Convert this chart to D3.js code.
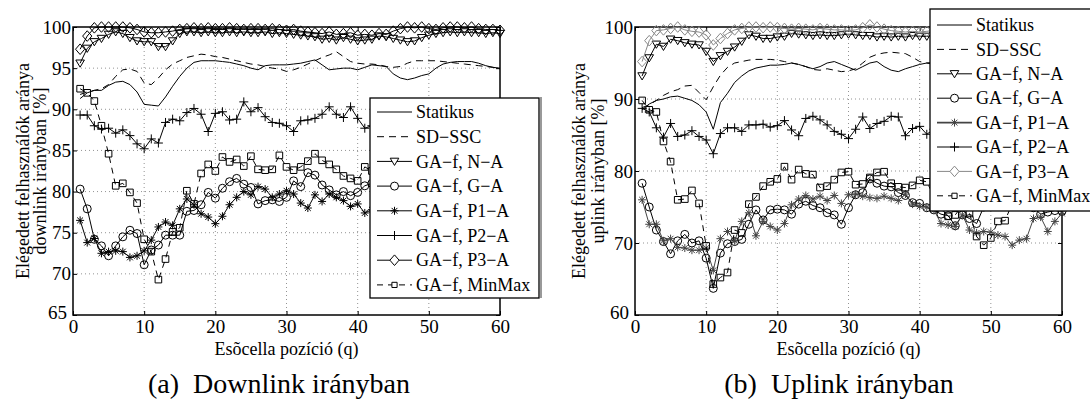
<!DOCTYPE html>
<html>
<head>
<meta charset="utf-8">
<script src="https://cdn.jsdelivr.net/npm/d3@7"></script>
<style>
  body { margin: 0; background: #fff; }
</style>
</head>
<body>
<svg id="chart" width="1090" height="399"></svg>
<script>
const FONT = "Liberation Serif";

// cell positions q = 1..60
const positions = d3.range(1, 61);
const xTicks = [0, 10, 20, 30, 40, 50, 60];
const dlYTicks = [65, 70, 75, 80, 85, 90, 95, 100];
const ulYTicks = [60, 70, 80, 90, 100];
const seriesNames = ["Statikus", "SD\u2212SSC", "GA\u2212f, N\u2212A", "GA\u2212f, G\u2212A",
  "GA\u2212f, P1\u2212A", "GA\u2212f, P2\u2212A", "GA\u2212f, P3\u2212A", "GA\u2212f, MinMax"];

// (a) downlink
const dlStatikus = [91.3, 92.0, 92.3, 92.3, 92.9, 93.3, 93.4, 93.0, 92.1, 90.6, 90.5, 90.4, 91.5, 92.8, 94.0, 95.0, 95.7, 95.9, 95.9, 95.9,
  95.8, 95.7, 95.5, 95.3, 95.0, 94.8, 95.3, 95.4, 95.4, 95.4, 95.5, 95.6, 95.8, 96.0, 95.4, 94.8, 94.9, 95.0, 95.0, 94.8,
  95.1, 95.4, 95.3, 95.2, 94.3, 93.8, 93.6, 93.8, 94.1, 94.3, 95.0, 95.5, 95.7, 95.8, 95.8, 95.8, 95.6, 95.3, 95.1, 95.0];
const dlSdssc = [91.8, 92.1, 92.3, 92.5, 93.0, 94.0, 94.8, 94.9, 94.6, 93.2, 93.0, 93.8, 94.8, 95.5, 95.9, 96.3, 96.5, 96.7, 96.6, 96.4,
  96.3, 96.1, 95.9, 95.7, 95.5, 95.4, 95.2, 95.0, 94.9, 94.6, 94.8, 95.1, 95.5, 95.9, 96.3, 96.6, 97.0, 96.4, 95.8, 95.6,
  95.5, 95.5, 95.4, 95.2, 95.1, 95.2, 95.6, 95.9, 95.9, 95.9, 95.9, 95.8, 95.7, 95.6, 95.5, 95.4, 95.3, 95.2, 95.1, 94.9];
const dlNA = [95.6, 97.4, 98.2, 98.6, 99.1, 99.4, 99.2, 98.7, 98.3, 98.2, 98.2, 97.6, 97.6, 98.3, 99.2, 99.4, 99.4, 99.3, 99.4, 99.3,
  99.3, 99.4, 99.3, 99.4, 99.3, 99.3, 99.4, 99.2, 99.3, 99.2, 99.1, 99.0, 98.9, 98.8, 98.5, 98.6, 98.4, 98.7, 98.5, 98.3,
  98.4, 98.5, 98.9, 98.8, 98.6, 98.4, 98.2, 98.3, 98.7, 99.0, 99.2, 99.3, 99.4, 99.3, 99.4, 99.3, 99.3, 99.2, 99.3, 99.2];
const dlGA = [80.3, 77.9, 74.2, 73.4, 72.2, 73.4, 74.5, 75.3, 74.9, 71.1, 72.9, 73.5, 74.7, 74.7, 74.7, 77.6, 77.7, 78.4, 79.9, 79.2,
  80.4, 81.2, 81.6, 80.9, 80.5, 78.5, 78.9, 79.0, 78.8, 79.3, 81.3, 80.6, 82.3, 82.0, 80.8, 80.2, 79.6, 80.0, 79.5, 79.9,
  80.7, 81.0, 80.6, 80.2, 80.8, 81.2, 80.5, 80.0, 80.4, 81.0, 81.5, 81.2, 80.8, 81.0, 81.4, 81.0, 80.7, 81.2, 81.0, 80.8];
const dlP1 = [76.5, 73.8, 74.3, 72.5, 72.7, 72.8, 72.7, 72.0, 72.2, 72.8, 74.1, 75.7, 76.3, 75.9, 77.9, 79.1, 78.4, 77.3, 76.9, 76.1,
  77.0, 78.4, 79.3, 80.0, 79.6, 80.6, 80.3, 79.3, 79.7, 80.1, 79.7, 78.6, 78.0, 79.6, 78.8, 79.7, 79.3, 78.9, 78.2, 78.5,
  77.4, 77.8, 78.2, 78.6, 78.0, 78.4, 79.0, 78.7, 78.3, 78.8, 79.2, 78.9, 78.5, 78.9, 79.3, 79.0, 78.6, 78.9, 78.7, 78.8];
const dlP2 = [89.3, 89.3, 88.0, 87.6, 87.7, 87.1, 87.5, 86.8, 85.8, 85.2, 86.4, 85.9, 88.4, 88.8, 88.6, 89.6, 90.1, 89.4, 87.3, 89.5,
  89.7, 88.7, 88.8, 90.9, 89.7, 90.2, 89.1, 88.4, 88.3, 88.0, 87.3, 88.6, 88.7, 88.9, 89.4, 90.3, 89.4, 89.0, 90.3, 88.9,
  87.7, 88.0, 88.5, 88.5, 88.8, 89.0, 88.6, 89.2, 89.5, 89.0, 88.7, 89.2, 89.6, 89.3, 89.0, 89.4, 89.1, 88.8, 89.0, 88.9];
const dlP3 = [97.3, 98.9, 99.9, 100.0, 100.0, 100.0, 100.0, 99.9, 99.7, 99.4, 99.3, 99.3, 99.4, 99.5, 99.7, 99.8, 99.9, 99.8, 99.9, 99.8,
  99.8, 99.9, 99.8, 99.7, 99.8, 99.8, 99.7, 99.8, 99.7, 99.6, 99.7, 99.5, 99.4, 99.3, 99.2, 99.4, 99.1, 99.2, 99.3, 99.0,
  99.1, 99.0, 99.2, 99.1, 99.5, 99.8, 100.0, 99.9, 100.0, 99.8, 99.7, 99.9, 100.0, 100.0, 99.9, 100.0, 99.8, 99.7, 99.7, 99.6];
const dlMinMax = [92.5, 92.0, 91.0, 88.0, 84.6, 80.7, 81.0, 79.9, 78.6, 74.2, 72.7, 69.3, 71.8, 75.1, 75.6, 80.1, 78.5, 82.2, 83.3, 82.5,
  84.2, 83.6, 83.9, 83.1, 84.3, 82.7, 82.6, 82.7, 84.4, 83.0, 82.6, 83.0, 83.7, 84.6, 83.8, 83.3, 82.7, 81.9, 81.6, 81.3,
  83.0, 82.5, 83.0, 83.4, 82.8, 83.2, 83.6, 83.0, 82.7, 83.3, 83.8, 83.2, 82.9, 83.5, 83.1, 82.8, 83.3, 83.0, 82.7, 83.0];

// (b) uplink
const ulStatikus = [88.5, 89.3, 89.8, 90.0, 90.3, 90.4, 90.1, 89.8, 89.2, 88.2, 85.8, 89.5, 90.8, 92.3, 93.2, 93.9, 94.3, 94.5, 94.7, 94.7,
  94.8, 95.0, 94.8, 94.5, 94.2, 94.5, 95.0, 95.2, 94.8, 94.4, 94.0, 94.5, 95.0, 95.2, 94.5, 94.0, 93.8, 94.2, 94.5, 94.8,
  95.0, 95.1, 95.0, 94.8, 94.6, 94.8, 95.0, 95.2, 95.0, 94.8, 94.7, 94.9, 95.1, 95.2, 95.0, 94.9, 95.0, 95.1, 95.0, 95.0];
const ulSdssc = [88.8, 89.2, 89.8, 90.5, 91.0, 91.3, 91.8, 91.9, 90.9, 89.9, 91.7, 93.3, 94.4, 95.0, 95.2, 95.4, 95.5, 95.5, 95.5, 95.4,
  95.2, 95.0, 94.8, 94.5, 94.1, 94.0, 94.2, 94.0, 93.8, 93.9, 94.2, 95.0, 95.8, 96.2, 96.4, 96.5, 96.4, 96.3, 95.8, 95.2,
  95.0, 94.8, 94.9, 95.1, 95.3, 95.2, 95.0, 94.9, 95.0, 95.2, 95.3, 95.1, 95.0, 94.9, 95.1, 95.2, 95.0, 94.9, 95.0, 95.1];
const ulNA = [93.2, 95.7, 97.6, 97.3, 98.3, 98.1, 97.8, 97.6, 97.5, 96.6, 95.2, 96.0, 96.6, 97.2, 98.0, 98.9, 98.7, 98.4, 98.4, 98.6,
  98.7, 99.1, 99.0, 98.9, 98.8, 98.9, 98.8, 98.8, 98.9, 99.0, 98.9, 98.8, 98.8, 98.6, 98.7, 98.6, 98.7, 98.6, 98.8, 98.7,
  98.7, 98.8, 98.9, 98.8, 98.7, 98.9, 99.0, 98.9, 98.8, 98.9, 99.0, 98.9, 98.8, 98.9, 98.9, 99.0, 98.9, 98.8, 98.9, 98.9];
const ulGA = [78.3, 75.0, 71.8, 70.2, 68.5, 70.3, 71.2, 70.0, 70.3, 67.9, 63.7, 68.6, 69.9, 70.2, 70.5, 72.6, 74.6, 73.2, 74.6, 74.7,
  74.6, 74.0, 75.4, 75.8, 75.2, 74.9, 74.2, 73.9, 72.6, 74.9, 76.7, 77.0, 78.9, 78.3, 77.9, 77.8, 77.0, 76.6, 75.6, 75.5,
  74.9, 74.6, 74.0, 73.8, 72.4, 73.9, 73.4, 72.7, 75.0, 75.4, 75.8, 76.0, 75.6, 75.2, 75.5, 74.9, 74.0, 74.3, 74.5, 74.4];
const ulP1 = [76.0, 72.6, 72.6, 70.3, 70.6, 69.4, 69.3, 69.0, 69.0, 69.3, 66.2, 70.6, 71.6, 70.3, 73.0, 74.2, 71.0, 73.0, 72.3, 71.8,
  72.7, 75.3, 76.1, 76.6, 76.1, 76.5, 75.9, 76.6, 75.5, 76.7, 76.8, 76.5, 76.3, 76.2, 76.5, 76.2, 75.9, 76.8, 75.4, 75.1,
  75.0, 74.6, 72.7, 72.5, 72.3, 73.9, 71.8, 71.4, 71.6, 71.5, 71.1, 70.9, 69.7, 70.4, 70.6, 73.4, 73.6, 71.6, 73.0, 74.1];
const ulP2 = [88.7, 88.2, 86.0, 84.7, 86.6, 84.8, 85.0, 85.6, 84.8, 84.3, 82.4, 85.2, 86.0, 86.0, 85.5, 86.4, 86.4, 86.5, 86.1, 86.3,
  87.0, 85.7, 84.9, 87.3, 87.6, 87.1, 86.4, 85.5, 85.1, 84.5, 85.8, 87.5, 85.9, 86.6, 86.9, 87.6, 87.5, 84.9, 85.9, 86.2,
  85.1, 85.8, 86.2, 86.0, 85.6, 86.1, 86.4, 86.0, 85.7, 86.2, 86.5, 86.1, 85.8, 86.0, 86.3, 86.0, 85.7, 86.1, 86.2, 86.0];
const ulP3 = [95.2, 98.1, 99.5, 99.6, 99.8, 100.0, 99.6, 99.4, 99.3, 98.9, 97.5, 98.4, 99.1, 99.6, 99.8, 100.0, 100.0, 99.9, 100.0, 99.9,
  99.8, 99.7, 99.8, 99.7, 99.6, 99.8, 99.7, 99.6, 99.6, 99.5, 99.6, 99.9, 100.3, 100.0, 99.7, 99.5, 99.4, 99.3, 99.4, 99.3,
  99.4, 99.5, 99.6, 99.5, 99.4, 99.5, 99.6, 99.5, 99.4, 99.5, 99.6, 99.5, 99.5, 99.6, 99.5, 99.4, 99.5, 99.6, 99.5, 99.5];
const ulMinMax = [89.8, 88.5, 88.2, 84.1, 81.3, 76.0, 76.1, 77.3, 75.5, 69.6, 64.3, 65.2, 65.9, 71.8, 71.4, 75.4, 76.4, 77.9, 78.5, 78.9,
  80.6, 78.8, 80.2, 79.6, 79.5, 77.7, 77.9, 78.8, 79.8, 79.9, 78.1, 78.2, 79.1, 79.8, 79.9, 78.3, 77.8, 77.7, 78.0, 78.7,
  78.5, 76.5, 75.0, 73.7, 73.9, 75.2, 74.1, 70.9, 69.7, 70.7, 73.0, 73.1, 75.5, 76.0, 76.4, 76.0, 75.6, 75.5, 75.9, 76.0];

const markerPaths = {
  tri: "M-4.3,-3.2L4.3,-3.2L0,4Z",
  circle: "M4,0A4,4 0 1,1 -4,0A4,4 0 1,1 4,0Z",
  star: "M-4,0H4M0,-4V4M-2.9,-2.9L2.9,2.9M-2.9,2.9L2.9,-2.9",
  plus: "M-4.5,0H4.5M0,-4.5V4.5",
  diamond: "M0,-5.3L4.6,0L0,5.3L-4.6,0Z",
  square: "M-3.3,-3.3H3.3V3.3H-3.3Z",
  squareSmall: "M-2.6,-2.6H2.6V2.6H-2.6Z"
};
const styles = [
  { dash: null, marker: null },
  { dash: "7,5", marker: null },
  { dash: null, marker: "tri" },
  { dash: null, marker: "circle" },
  { dash: null, marker: "star" },
  { dash: null, marker: "plus" },
  { dash: null, marker: "diamond" },
  { dash: "6,5", marker: "square" }
];

const svg = d3.select("#chart");

function label(sel, size) {
  return sel.attr("font-family", FONT).style("font-family", FONT)
    .style("font-size", size + "px").attr("fill", "#000");
}

function drawPanel(opt) {
  const w = 427, h = 288;
  const g = svg.append("g").attr("transform", "translate(" + opt.left + "," + opt.top + ")");
  const x = d3.scaleLinear().domain([0, 60]).range([0, w]);
  const y = d3.scaleLinear().domain(opt.yDomain).range([h, 0]);

  // dotted grid
  g.append("g").selectAll("line").data(xTicks.slice(1, -1)).join("line")
    .attr("x1", d => x(d)).attr("x2", d => x(d)).attr("y1", 0).attr("y2", h)
    .attr("stroke", "#777").attr("stroke-width", 0.8).attr("stroke-dasharray", "1,3");
  g.append("g").selectAll("line").data(opt.yTicks.slice(1, -1)).join("line")
    .attr("y1", d => y(d)).attr("y2", d => y(d)).attr("x1", 0).attr("x2", w)
    .attr("stroke", "#777").attr("stroke-width", 0.8).attr("stroke-dasharray", "1,3");

  // axes with inward ticks
  const xa = g.append("g").attr("transform", "translate(0," + h + ")")
    .call(d3.axisBottom(x).tickValues(xTicks).tickSize(-4).tickPadding(5));
  const ya = g.append("g")
    .call(d3.axisLeft(y).tickValues(opt.yTicks).tickSize(-4).tickPadding(2));
  g.append("g").call(d3.axisTop(x).tickValues(xTicks).tickSize(-4).tickFormat(""));
  g.append("g").attr("transform", "translate(" + w + ",0)")
    .call(d3.axisRight(y).tickValues(opt.yTicks).tickSize(-4).tickFormat(""));
  g.selectAll(".domain").remove();
  g.selectAll(".tick line").attr("stroke", "#000");
  label(xa.selectAll("text"), 19);
  label(ya.selectAll("text"), 19);
  // keep the lowest y label clear of the "0" under the corner
  ya.selectAll("text").filter(d => d === opt.yDomain[0]).attr("x", -6).attr("dy", "0.2em");

  g.append("rect").attr("width", w).attr("height", h)
    .attr("fill", "none").attr("stroke", "#000").attr("stroke-width", 1.5);

  // series
  const line = d3.line().x((d, i) => x(positions[i])).y(d => y(d));
  opt.series.forEach((vals, k) => {
    const st = styles[k];
    const col = opt.colors[k];
    g.append("path").datum(vals).attr("d", line)
      .attr("fill", "none").attr("stroke", col).attr("stroke-width", 1)
      .attr("stroke-dasharray", st.dash);
    if (st.marker) {
      g.append("g").selectAll("path").data(vals).join("path")
        .attr("d", markerPaths[st.marker])
        .attr("transform", (d, i) => "translate(" + x(positions[i]) + "," + y(d) + ")")
        .attr("fill", "none").attr("stroke", col).attr("stroke-width", 1);
    }
  });

  // axis labels
  label(svg.append("text"), 18).attr("x", opt.left + w / 2).attr("y", 355)
    .attr("text-anchor", "middle").text("Es\u00f5cella poz\u00edci\u00f3 (q)");
  opt.yLabel.forEach((t, i) => {
    label(svg.append("text"), 18)
      .attr("transform", "translate(" + opt.yLabelX[i] + "," + (opt.top + h / 2) + ") rotate(-90)")
      .attr("text-anchor", "middle").text(t);
  });
  label(svg.append("text"), 28).attr("x", opt.captionX).attr("y", 393)
    .attr("text-anchor", "middle").style("white-space", "pre")
    .text(opt.caption);

  // legend
  const L = opt.legend;
  const lg = svg.append("g");
  if (L.shadow) {
    lg.append("line").attr("x1", L.x + L.w + 2).attr("x2", L.x + L.w + 2)
      .attr("y1", L.y - 1).attr("y2", L.y + L.h)
      .attr("stroke", "#999").attr("stroke-width", 2);
  }
  lg.append("rect").attr("x", L.x).attr("y", L.y).attr("width", L.w).attr("height", L.h)
    .attr("fill", "#fff").attr("stroke", "#000").attr("stroke-width", 1.3);
  seriesNames.forEach((name, k) => {
    const st = styles[k];
    const yy = L.row0 + k * L.step;
    const col = opt.colors[k];
    lg.append("line").attr("x1", L.x + 7).attr("x2", L.x + 42).attr("y1", yy).attr("y2", yy)
      .attr("stroke", col).attr("stroke-width", k === 4 && opt.thickP1 ? 1.8 : 1)
      .attr("stroke-dasharray", st.dash);
    if (st.marker) {
      lg.append("path")
        .attr("d", markerPaths[st.marker === "square" ? "squareSmall" : st.marker])
        .attr("transform", "translate(" + (L.x + 24.5) + "," + yy + ")")
        .attr("fill", "#fff").attr("stroke", col).attr("stroke-width", 1);
    }
    label(lg.append("text"), 18).attr("x", L.x + 46).attr("y", yy).attr("dy", "0.34em").text(name);
  });
}

drawPanel({
  left: 73, top: 27, yDomain: [65, 100], yTicks: dlYTicks,
  series: [dlStatikus, dlSdssc, dlNA, dlGA, dlP1, dlP2, dlP3, dlMinMax],
  colors: ["#000", "#000", "#000", "#000", "#000", "#000", "#000", "#000"],
  yLabel: ["El\u00e9gedett felhaszn\u00e1l\u00f3k ar\u00e1nya", "downlink ir\u00e1nyban [%]"],
  yLabelX: [29, 46],
  caption: "(a)  Downlink ir\u00e1nyban", captionX: 279,
  legend: { x: 370, y: 98, w: 169, h: 200, row0: 112, step: 24.7, shadow: true }
});
drawPanel({
  left: 635, top: 27, yDomain: [60, 100], yTicks: ulYTicks,
  series: [ulStatikus, ulSdssc, ulNA, ulGA, ulP1, ulP2, ulP3, ulMinMax],
  colors: ["#000", "#000", "#000", "#000", "#444", "#000", "#888", "#000"],
  thickP1: true,
  yLabel: ["El\u00e9gedett felhaszn\u00e1l\u00f3k ar\u00e1nya", "uplink ir\u00e1nyban [%]"],
  yLabelX: [585, 604],
  caption: "(b)  Uplink ir\u00e1nyban", captionX: 839,
  legend: { x: 930, y: 9, w: 200, h: 202, row0: 25, step: 24.4, shadow: false }
});
</script>
</body>
</html>
